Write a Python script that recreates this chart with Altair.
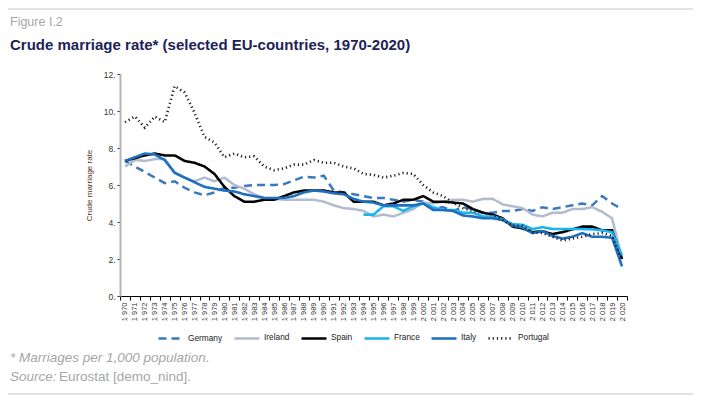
import altair as alt
import pandas as pd

years = list(range(1970, 2021))
countries = ["Germany", "Ireland", "Spain", "France", "Italy", "Portugal"]

germany = [7.3, 7.0, 6.7, 6.4, 6.1, 6.2, 5.85, 5.6, 5.45, 5.6,
           5.85, 5.85, 5.95, 6.0, 6.0, 6.0, 6.05, 6.25, 6.45, 6.4,
           6.5, 5.7, 5.6, 5.5, 5.4, 5.3, 5.3, 5.2, 5.1, 5.2,
           5.1, 4.75, 4.8, 4.6, 4.8, 4.7, 4.5, 4.5, 4.6, 4.6,
           4.7, 4.6, 4.8, 4.7, 4.8, 4.9, 5.0, 4.9, 5.4, 5.0, 4.7]
ireland = [7.0, 7.35, 7.3, 7.4, 7.4, 6.7, 6.4, 6.2, 6.4, 6.2,
           6.4, 6.0, 5.8, 5.5, 5.3, 5.25, 5.2, 5.2, 5.2, 5.2,
           5.1, 4.9, 4.75, 4.7, 4.6, 4.3, 4.4, 4.3, 4.5, 4.7,
           5.05, 5.0, 5.1, 5.2, 5.2, 5.1, 5.25, 5.25, 4.95, 4.85,
           4.75, 4.4, 4.3, 4.5, 4.5, 4.7, 4.7, 4.8, 4.55, 4.2, 2.0]
spain = [7.3, 7.45, 7.6, 7.7, 7.6, 7.6, 7.3, 7.2, 7.0, 6.6,
         5.9, 5.4, 5.1, 5.1, 5.2, 5.2, 5.4, 5.6, 5.7, 5.7,
         5.7, 5.6, 5.6, 5.1, 5.1, 5.1, 4.9, 5.0, 5.2, 5.2,
         5.4, 5.1, 5.1, 5.05, 5.0, 4.7, 4.5, 4.4, 4.2, 3.75,
         3.65, 3.45, 3.5, 3.35, 3.45, 3.6, 3.75, 3.75, 3.55, 3.55, 2.0]
france_years = list(range(1994, 2021))
france = [4.4, 4.4, 4.85, 4.85, 4.6, 4.85, 5.0,
          4.8, 4.65, 4.65, 4.5, 4.5, 4.3, 4.3, 4.15, 3.88,
          3.85, 3.62, 3.72, 3.62, 3.62, 3.62, 3.62, 3.6, 3.55, 3.45, 2.2]
italy = [7.3, 7.5, 7.7, 7.65, 7.35, 6.65, 6.4, 6.15, 5.9, 5.8,
         5.7, 5.65, 5.5, 5.4, 5.3, 5.3, 5.3, 5.4, 5.6, 5.7,
         5.65, 5.55, 5.5, 5.25, 5.1, 5.05, 4.9, 4.9, 4.9, 4.9,
         5.0, 4.65, 4.65, 4.6, 4.35, 4.3, 4.2, 4.2, 4.1, 3.8,
         3.7, 3.4, 3.5, 3.25, 3.1, 3.2, 3.4, 3.2, 3.2, 3.15, 1.6]
portugal = [9.4, 9.7, 9.1, 9.7, 9.4, 11.35, 11.0, 9.9, 8.6, 8.3,
            7.5, 7.7, 7.5, 7.55, 7.0, 6.8, 6.9, 7.1, 7.1, 7.35,
            7.2, 7.2, 7.0, 6.9, 6.6, 6.55, 6.4, 6.5, 6.65, 6.6,
            6.0, 5.6, 5.4, 5.05, 4.75, 4.6, 4.5, 4.4, 4.1, 3.8,
            3.8, 3.45, 3.4, 3.2, 3.0, 3.1, 3.2, 3.35, 3.4, 3.25, 1.9]

y_ticks = [0, 2, 4, 6, 8, 10, 12]

colors = ["#3a78c2", "#b3bccf", "#000000", "#1ab4f0", "#1f6fc0", "#222222"]
dashes = [[8, 5], [1, 0], [1, 0], [1, 0], [1, 0], [1.2, 3]]
widths = [2.5, 2.6, 2.6, 2.0, 2.6, 1.3]

rows = []
for name, ys, vals in [("Germany", years, germany), ("Ireland", years, ireland),
                       ("Spain", years, spain), ("France", france_years, france),
                       ("Italy", years, italy), ("Portugal", years, portugal)]:
    for y, v in zip(ys, vals):
        rows.append({"country": name, "year": y, "value": v})
df = pd.DataFrame(rows)

FONT = "Liberation Sans"


def leg():
    return alt.Legend(title=None, orient="none", legendX=37, legendY=250,
                      direction="horizontal", symbolType="stroke",
                      symbolSize=625, labelFontSize=8.3, labelFont=FONT,
                      labelColor="#222222", labelOffset=3, columnPadding=6)


lines = alt.Chart(df).mark_line().encode(
    x=alt.X("year:O", bandPosition=0.5,
            scale=alt.Scale(type="band", paddingInner=0, paddingOuter=0),
            axis=alt.Axis(title=None, labelAngle=270, labelFontSize=7.5, labelFont=FONT,
                          labelColor="#333333", labelPadding=2, tickBand="extent",
                          tickSize=4, tickColor="#000000", domainColor="#000000",
                          labelExpr="substring(datum.label,0,1) + ' ' + substring(datum.label,1)")),
    y=alt.Y("value:Q", scale=alt.Scale(domain=[0, 12], nice=False),
            axis=alt.Axis(values=y_ticks, title="Crude marriage rate", titleFontSize=8,
                          titleFont=FONT, titleFontWeight="normal", titleColor="#5a2d14",
                          titleAngle=270, titleAlign="center", titleBaseline="middle",
                          titleX=-31, titleY=111,
                          labelExpr="datum.value + '.'", labelFontSize=8.5, labelFont=FONT,
                          labelColor="#333333", tickSize=3, tickColor="#333333",
                          domainColor="#b5b5b5", domainWidth=2, grid=False, labelPadding=2)),
    color=alt.Color("country:N", scale=alt.Scale(domain=countries, range=colors), legend=leg()),
    strokeDash=alt.StrokeDash("country:N", scale=alt.Scale(domain=countries, range=dashes),
                              legend=leg()),
    strokeWidth=alt.StrokeWidth("country:N", scale=alt.Scale(domain=countries, range=widths),
                                legend=leg()),
)

one = pd.DataFrame({"a": [0]})


def label(text, x, y, size, color, weight="normal", style="normal"):
    return alt.Chart(pd.DataFrame({"t": [text]})).mark_text(
        align="left", baseline="alphabetic", font=FONT, fontSize=size, color=color,
        fontWeight=weight, fontStyle=style
    ).encode(text="t:N", x=alt.value(x), y=alt.value(y))


fig = label("Figure I.2", -110, -48, 12.5, "#a6a6a6")
title = label("Crude marriage rate* (selected EU-countries, 1970-2020)", -110, -24, 15,
              "#1d2259", weight="bold")
note1 = label("* Marriages per 1,000 population.", -110, 288, 13.5, "#a6a6a6", style="italic")
note2a = label("Source:", -110, 307, 13.5, "#a6a6a6", style="italic")
note2b = label("Eurostat [demo_nind].", -61, 307, 13.5, "#a6a6a6")

top_rule = alt.Chart(one).mark_rule(color="#c8c8c8", strokeWidth=1).encode(
    x=alt.value(-112), x2=alt.value(573), y=alt.value(-65))
bot_rule = alt.Chart(one).mark_rule(color="#c8c8c8", strokeWidth=1).encode(
    x=alt.value(-112), x2=alt.value(573), y=alt.value(320))

chart = alt.layer(top_rule, bot_rule, fig, title, lines, note1, note2a, note2b).properties(
    width=507, height=222,
    autosize=alt.AutoSizeParams(type="none"),
    padding={"left": 112, "top": 66, "right": 74, "bottom": 101},
).configure_view(stroke=None)

chart.save("out.html", embed_options={"renderer": "svg", "actions": False})
